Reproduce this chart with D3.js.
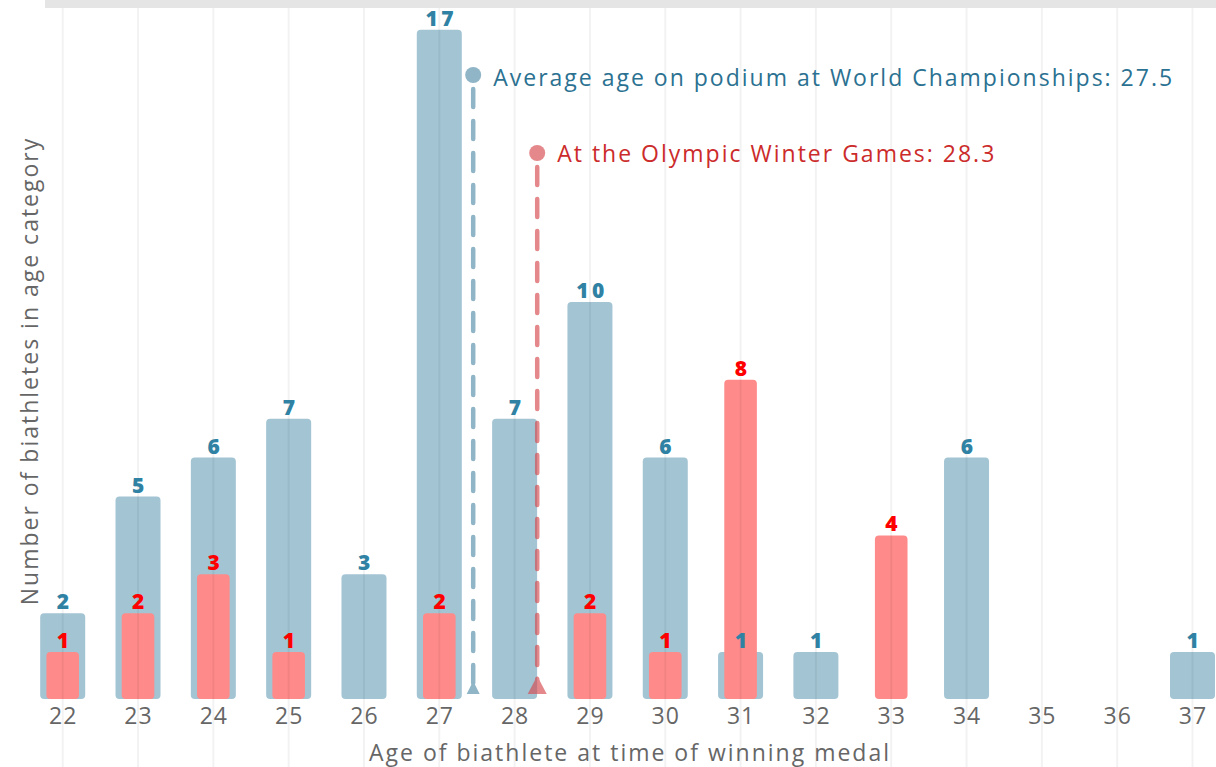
<!DOCTYPE html>
<html>
<head>
<meta charset="utf-8">
<script src="https://cdn.jsdelivr.net/npm/d3@7"></script>
<style>
  html, body { margin: 0; padding: 0; background: #fff; }
  svg { display: block; }
</style>
</head>
<body>
<svg id="chart" width="1216" height="767"></svg>
<script>
// ---- data ----
const ages = [22, 23, 24, 25, 26, 27, 28, 29, 30, 31, 32, 33, 34, 35, 36, 37];
const worldCounts = [2, 5, 6, 7, 3, 17, 7, 10, 6, 1, 1, 0, 6, 0, 0, 1];
const olympicCounts = [1, 2, 3, 1, 0, 2, 0, 2, 1, 8, 0, 4, 0, 0, 0, 0];
const avgWorld = 27.45;
const avgWorldLabel = "27.5";
const avgOlympic = 28.3;
const avgOlympicLabel = "28.3";
const xTitle = "Age of biathlete at time of winning medal";
const yTitle = "Number of biathletes in age category";
const worldNote = "Average age on podium at World Championships: ";
const olympicNote = "At the Olympic Winter Games: ";

// ---- layout ----
const W = 1216, H = 767;
const svg = d3.select("#chart");
const FONT = "'Open Sans', sans-serif";

const x = d3.scalePoint().domain(ages).range([62.7, 1192.5]);
const xLin = d3.scaleLinear().domain([ages[0], ages[ages.length - 1]]).range([62.7, 1192.5]);
const y = d3.scaleLinear().domain([0, 17]).range([691, 29.7]);
const barBottom = y(0) + 8;

const world = ages.map((a, i) => ({ age: a, v: worldCounts[i] })).filter(d => d.v > 0);
const oly = ages.map((a, i) => ({ age: a, v: olympicCounts[i] })).filter(d => d.v > 0);

// top grey band
svg.append("rect").attr("x", 45).attr("y", 0).attr("width", W - 45).attr("height", 8).attr("fill", "#e5e5e5");

// bars
const wB = 45, oB = 32.6;
svg.append("g").selectAll("rect").data(world).join("rect")
  .attr("x", d => x(d.age) - wB / 2)
  .attr("y", d => y(d.v))
  .attr("width", wB)
  .attr("height", d => barBottom - y(d.v))
  .attr("rx", 4)
  .attr("fill", "#a2c4d3");

svg.append("g").selectAll("rect").data(oly).join("rect")
  .attr("x", d => x(d.age) - oB / 2)
  .attr("y", d => y(d.v))
  .attr("width", oB)
  .attr("height", d => barBottom - y(d.v))
  .attr("rx", 4)
  .attr("fill", "#ff8a8a");

// grid lines (on top, translucent)
svg.append("g").selectAll("line").data(ages).join("line")
  .attr("x1", d => x(d)).attr("x2", d => x(d))
  .attr("y1", 8).attr("y2", H)
  .attr("stroke", "rgba(0,0,0,0.05)")
  .attr("stroke-width", 2);

// average lines
function avgLine(val, cy, color, opacity, sw, r, triW, triH) {
  const g = svg.append("g").attr("opacity", opacity);
  const cx = xLin(val);
  g.append("line")
    .attr("x1", cx).attr("x2", cx)
    .attr("y1", cy + r + 6).attr("y2", y(0) - 2)
    .attr("stroke", color).attr("stroke-width", sw)
    .attr("stroke-linecap", "round")
    .attr("stroke-dasharray", "18,14");
  g.append("circle").attr("cx", cx).attr("cy", cy).attr("r", r).attr("fill", color);
  g.append("path")
    .attr("d", `M${cx - triW / 2},${barBottom - 5} L${cx + triW / 2},${barBottom - 5} L${cx},${barBottom - 5 - triH} Z`)
    .attr("fill", color);
  return cx;
}
const cxW = avgLine(avgWorld, 75, "#8fb5c7", 1, 4.5, 8, 13, 13);
const cxO = avgLine(avgOlympic, 153, "#d64a4f", 0.65, 4.5, 8, 19, 18);

// annotations
const textStyle = sel => sel
  .attr("font-family", FONT).attr("font-size", 23).attr("letter-spacing", 2);
svg.append("text").attr("x", cxW + 20).attr("y", 86).call(textStyle)
  .attr("fill", "#2b7191").text(worldNote + avgWorldLabel);
svg.append("text").attr("x", cxO + 20).attr("y", 162).call(textStyle)
  .attr("fill", "#cc2b2b").text(olympicNote + avgOlympicLabel);

// value labels
const labelStyle = sel => sel
  .attr("text-anchor", "middle")
  .attr("font-family", FONT).attr("font-weight", 800)
  .attr("font-size", 21).attr("letter-spacing", 3.5);
svg.append("g").selectAll("text").data(world).join("text")
  .call(labelStyle)
  .attr("x", d => x(d.age) + 2)
  .attr("y", d => y(d.v) - 4)
  .attr("fill", "#2f82a3")
  .text(d => d.v);
svg.append("g").selectAll("text").data(oly).join("text")
  .call(labelStyle)
  .attr("x", d => x(d.age) + 2)
  .attr("y", d => y(d.v) - 4)
  .attr("fill", "#ff0000")
  .text(d => d.v);

// x axis
const xAxis = svg.append("g").attr("transform", `translate(0,${barBottom})`)
  .call(d3.axisBottom(x).tickSize(0).tickPadding(9));
xAxis.select(".domain").remove();
xAxis.selectAll("text")
  .attr("font-family", FONT).attr("font-size", 23).attr("fill", "#666")
  .attr("letter-spacing", 1)
  .attr("dy", "0.71em");

// axis titles
svg.append("text").attr("x", 630).attr("y", 761).attr("text-anchor", "middle")
  .call(textStyle).attr("fill", "#666").text(xTitle);
svg.append("text").attr("transform", "translate(38,371) rotate(-90)")
  .attr("text-anchor", "middle")
  .call(textStyle).attr("fill", "#666").text(yTitle);
</script>
</body>
</html>
